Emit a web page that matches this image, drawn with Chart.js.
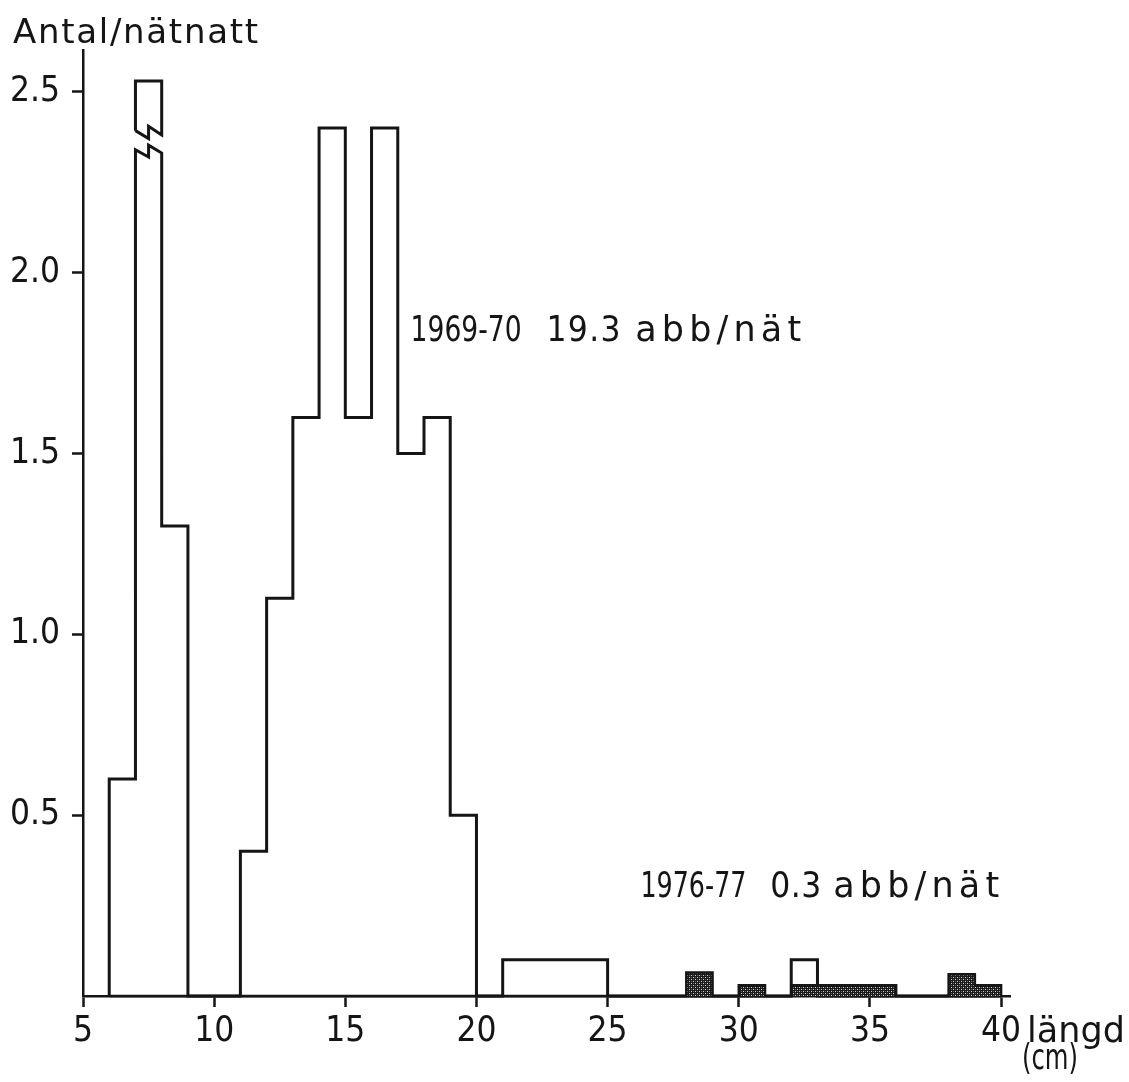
<!DOCTYPE html>
<html>
<head>
<meta charset="utf-8">
<script src="https://cdn.jsdelivr.net/npm/chart.js@4/dist/chart.umd.min.js"></script>
<style>
  html, body { margin: 0; padding: 0; background: #fff; }
  #wrap { width: 1129px; height: 1082px; position: relative; }
</style>
</head>
<body>
<div id="wrap"><canvas id="c" width="1129" height="1082"></canvas></div>
<script>
// ---- data ----
// lower edges of 1-cm length classes, 6..39 cm
const lengthBins = [6,7,8,9,10,11,12,13,14,15,16,17,18,19,20,21,22,23,24,25,26,27,28,29,30,31,32,33,34,35,36,37,38,39];
// 1969-70 (open histogram), fish per net-night; class 7-8 is drawn broken (off-scale)
const antal1969 = [0.6,2.53,1.3,0,0,0.4,1.1,1.6,2.4,1.6,2.4,1.5,1.6,0.5,0,0.1,0.1,0.1,0.1,0,0,0,0,0,0,0,0.1,0,0,0,0,0,0,0];
// 1976-77 (shaded histogram)
const antal1976 = [0,0,0,0,0,0,0,0,0,0,0,0,0,0,0,0,0,0,0,0,0,0,0.065,0,0.03,0,0.03,0.03,0.03,0.03,0,0,0.06,0.03];
// broken class: lower edge and zig-zag levels of the break
const brokenBin = 7;
const breakLower = [2.34, 2.32, 2.353, 2.331];
const breakUpper = [2.393, 2.371, 2.405, 2.381];
const xTickValues = [5,10,15,20,25,30,35,40];
const yTickValues = [0.5,1.0,1.5,2.0,2.5];
const labels = {
  yTitle: 'Antal/nätnatt',
  s1Year: '1969-70', s1Num: '19.3', s1Unit: 'abb/nät',
  s2Year: '1976-77', s2Num: '0.3', s2Unit: 'abb/nät',
  xTitle1: 'längd', xTitle2: '(cm)'
};

// ---- build outlines from the arrays ----
function outline(values, withBreak) {
  const pts = [{x: lengthBins[0], y: 0}];
  for (let i = 0; i < lengthBins.length; i++) {
    const x0 = lengthBins[i], x1 = x0 + 1, v = values[i];
    if (withBreak && x0 === brokenBin) {
      pts.push({x: x0, y: breakLower[0]}, {x: x0 + 0.5, y: breakLower[1]},
               {x: x0 + 0.5, y: breakLower[2]}, {x: x1, y: breakLower[3]});
    } else {
      pts.push({x: x0, y: v}, {x: x1, y: v});
    }
  }
  pts.push({x: lengthBins[lengthBins.length - 1] + 1, y: 0});
  return pts;
}
function brokenTop(values) {
  const i = lengthBins.indexOf(brokenBin);
  const top = values[i], x0 = brokenBin, x1 = brokenBin + 1;
  return [
    {x: x0, y: breakUpper[0]}, {x: x0, y: top}, {x: x1, y: top}, {x: x1, y: breakUpper[3]},
    {x: x0 + 0.5, y: breakUpper[2]}, {x: x0 + 0.5, y: breakUpper[1]}, {x: x0, y: breakUpper[0]}
  ];
}

// shading pattern
const pc = document.createElement('canvas');
pc.width = 4; pc.height = 4;
const pctx = pc.getContext('2d');
pctx.fillStyle = '#1a1a1a'; pctx.fillRect(0, 0, 4, 4);
pctx.fillStyle = '#d4d4d4';
pctx.fillRect(1, 1, 1, 1); pctx.fillRect(3, 3, 1, 1);
pctx.fillStyle = '#6a6a6a';
pctx.fillRect(3, 1, 1, 1); pctx.fillRect(1, 3, 1, 1);
const shade = pctx.createPattern(pc, 'repeat');

const INK = '#151515';
const FONT_NUM = '"DejaVu Sans Condensed", "Liberation Sans Narrow", "DejaVu Sans", sans-serif';
const FONT_TXT = '"DejaVu Sans", "Liberation Sans", sans-serif';

function drawFit(ctx, text, xLeft, baseline, width, size, family) {
  ctx.save();
  ctx.font = size + 'px ' + family;
  ctx.fillStyle = INK;
  ctx.textBaseline = 'alphabetic';
  ctx.textAlign = 'left';
  ctx.letterSpacing = '0px';
  const w = ctx.measureText(text).width;
  const n = [...text].length;
  if (w > width) {
    ctx.translate(xLeft, baseline);
    ctx.scale(width / w, 1);
    ctx.fillText(text, 0, 0);
  } else {
    const ls = n > 1 ? (width - w) / (n - 1) : 0;
    ctx.letterSpacing = ls.toFixed(2) + 'px';
    ctx.fillText(text, xLeft, baseline);
  }
  ctx.restore();
}

const textPlugin = {
  id: 'texts',
  afterDraw(chart) {
    const ctx = chart.ctx;
    const xs = chart.scales.x, ys = chart.scales.y;
    const b1 = ys.getPixelForValue(1.81), b2 = ys.getPixelForValue(0.275);
    drawFit(ctx, labels.yTitle, 13, 43, 245, 34, FONT_TXT);
    drawFit(ctx, labels.s1Year, xs.getPixelForValue(17.49), b1, 111, 35, FONT_NUM);
    drawFit(ctx, labels.s1Num, xs.getPixelForValue(22.67), b1, 74, 35, FONT_NUM);
    drawFit(ctx, labels.s1Unit, xs.getPixelForValue(26.05), b1, 166, 35, FONT_TXT);
    drawFit(ctx, labels.s2Year, xs.getPixelForValue(26.25), b2, 106, 35, FONT_NUM);
    drawFit(ctx, labels.s2Num, xs.getPixelForValue(31.2), b2, 51, 35, FONT_NUM);
    drawFit(ctx, labels.s2Unit, xs.getPixelForValue(33.6), b2, 166, 35, FONT_TXT);
    drawFit(ctx, labels.xTitle1, 1027, 1042, 98, 35, FONT_TXT);
    drawFit(ctx, labels.xTitle2, 1022, 1069, 56, 35, FONT_NUM);
  }
};

new Chart(document.getElementById('c'), {
  type: 'line',
  data: {
    datasets: [
      {
        label: '1976-77',
        data: outline(antal1976, false),
        borderColor: INK, borderWidth: 2.5,
        backgroundColor: shade, fill: 'origin',
        pointRadius: 0, tension: 0, borderJoinStyle: 'miter', clip: false
      },
      {
        label: '1969-70 (top)',
        data: brokenTop(antal1969),
        borderColor: INK, borderWidth: 3, fill: false,
        pointRadius: 0, tension: 0, borderJoinStyle: 'miter', clip: false
      },
      {
        label: '1969-70',
        data: outline(antal1969, true),
        borderColor: INK, borderWidth: 3, fill: false,
        pointRadius: 0, tension: 0, borderJoinStyle: 'miter', clip: false
      }
    ]
  },
  options: {
    responsive: false,
    animation: false,
    events: [],
    layout: { padding: { top: 50, right: 119, left: 0, bottom: 0 } },
    plugins: { legend: { display: false }, tooltip: { enabled: false } },
    scales: {
      x: {
        type: 'linear', min: 5, max: 40.34,
        afterFit(s) { s.height = 86; },
        afterBuildTicks(s) { s.ticks = xTickValues.map(v => ({value: v})); },
        grid: { display: true, drawOnChartArea: false, drawTicks: true, tickLength: 11, tickWidth: 2.5, tickColor: INK },
        border: { display: true, color: INK, width: 2.5 },
        ticks: { color: INK, font: { family: FONT_NUM, size: 35 }, padding: 4, maxRotation: 0, autoSkip: false,
                 callback: v => String(v) }
      },
      y: {
        type: 'linear', min: 0, max: 2.616,
        afterFit(s) { s.width = 83; },
        afterBuildTicks(s) { s.ticks = yTickValues.map(v => ({value: v})); },
        grid: { display: true, drawOnChartArea: false, drawTicks: true, tickLength: 11, tickWidth: 2.5, tickColor: INK },
        border: { display: true, color: INK, width: 2.5 },
        ticks: { color: INK, font: { family: FONT_NUM, size: 35 }, padding: 12, autoSkip: false,
                 callback: v => Number(v).toFixed(1) }
      }
    }
  },
  plugins: [textPlugin]
});
</script>
</body>
</html>
